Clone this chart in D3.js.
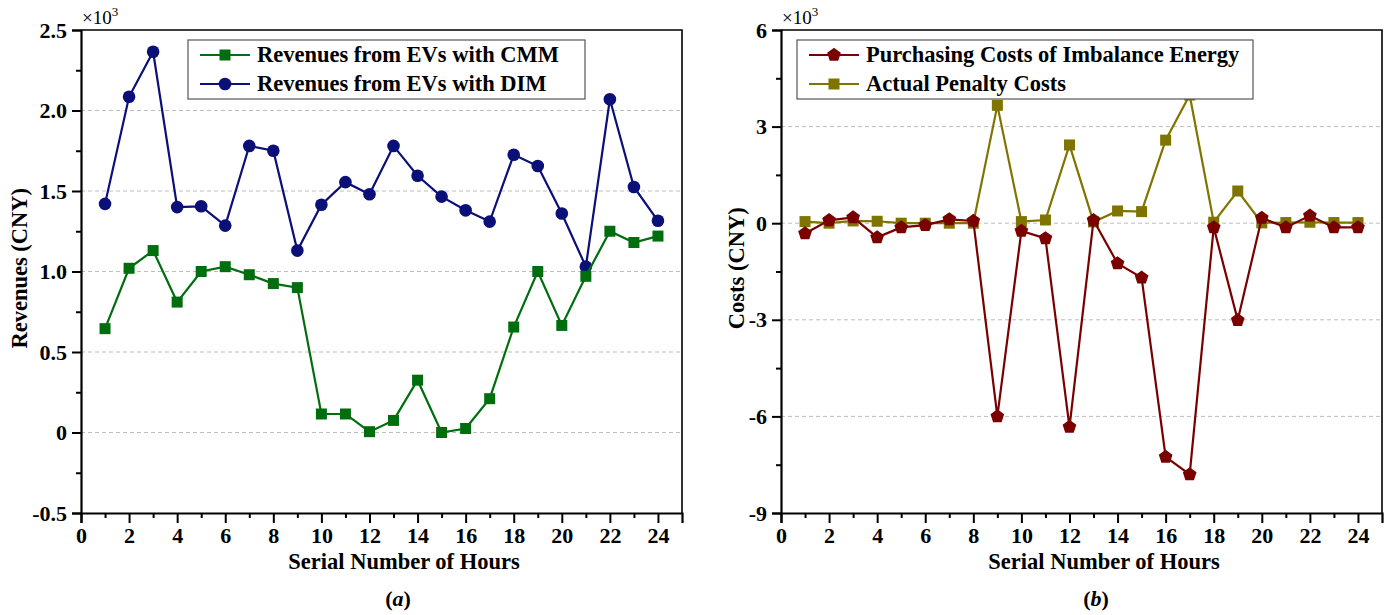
<!DOCTYPE html>
<meta charset="utf-8">
<script src="https://d3js.org/d3.v7.min.js"></script>
<style>
  body { margin: 0; background: #fff; }
  text { font-family: "Liberation Serif", "Times New Roman", serif; }
</style>
<body>
<svg width="1391" height="615"></svg>
<script>
// hours 1..24
var hours = d3.range(1, 25);

// panel (a): revenues, x10^3 CNY
var revenueCMM = [0.645, 1.02, 1.13, 0.81, 1.0, 1.03, 0.98, 0.925, 0.9, 0.115, 0.115, 0.005,
                  0.075, 0.325, 0.0, 0.025, 0.21, 0.655, 1.0, 0.665, 0.97, 1.25, 1.18, 1.22];
var revenueDIM = [1.42, 2.085, 2.365, 1.40, 1.405, 1.285, 1.78, 1.75, 1.13, 1.415, 1.555, 1.48,
                  1.78, 1.595, 1.465, 1.38, 1.31, 1.725, 1.655, 1.36, 1.03, 2.07, 1.525, 1.315];

// panel (b): costs, x10^3 CNY
var purchasingCosts = [-0.32, 0.09, 0.18, -0.44, -0.13, -0.06, 0.12, 0.07, -6.0, -0.24, -0.47, -6.33,
                       0.09, -1.25, -1.69, -7.26, -7.8, -0.13, -3.01, 0.16, -0.13, 0.23, -0.13, -0.13];
var penaltyCosts = [0.05, 0.0, 0.07, 0.06, 0.0, 0.0, 0.0, 0.0, 3.66, 0.05, 0.1, 2.43,
                    0.04, 0.38, 0.36, 2.58, 3.98, 0.03, 1.0, 0.01, 0.02, 0.03, 0.02, 0.02];

var xTicks = d3.range(0, 25, 2);
var xMinor = d3.range(1, 25, 2);
var yTicksA = [-0.5, 0, 0.5, 1.0, 1.5, 2.0, 2.5];
var yTicksB = [-9, -6, -3, 0, 3, 6];

var svg = d3.select("svg");

function pentagon(r) {
    var pts = d3.range(5).map(function(i) {
        var a = -Math.PI / 2 + i * 2 * Math.PI / 5;
        return [r * Math.cos(a), r * Math.sin(a)];
    });
    return "M" + pts.join("L") + "Z";
}
var markers = {
    square: d3.symbol().type(d3.symbolSquare).size(121)(),
    circle: d3.symbol().type(d3.symbolCircle).size(125)(),
    pentagon: pentagon(7.2)
};
// hyphen instead of unicode minus, like the original
function hy(f) { return function(d) { return f(d).replace("\u2212", "-"); }; }

function panel(opt) {
    var g = svg.append("g");
    var x = d3.scaleLinear().domain([0, 25]).range([opt.left, opt.left + 601]);
    var y = d3.scaleLinear().domain(opt.yDomain).range([513, 30]);

    // grid
    g.selectAll("line.grid").data(opt.grid).join("line")
        .attr("x1", x(0)).attr("x2", x(25))
        .attr("y1", d => y(d)).attr("y2", d => y(d))
        .attr("stroke", "#bdbdbd").attr("stroke-width", 1)
        .attr("stroke-dasharray", "4,3");

    // frame top/right
    g.append("path")
        .attr("d", "M" + x(0) + "," + y.range()[1] + "H" + x(25) + "V" + y.range()[0])
        .attr("fill", "none").attr("stroke", "#000").attr("stroke-width", 1.6);

    // x axis
    g.append("g").attr("transform", "translate(0,513)")
        .call(d3.axisBottom(x).tickValues(xTicks).tickSize(10).tickPadding(4).tickFormat(d3.format("d")));
    g.append("g").attr("transform", "translate(0,513)")
        .call(d3.axisBottom(x).tickValues(xMinor).tickSize(5).tickFormat(""))
        .select(".domain").remove();

    // y axis
    g.append("g").attr("transform", "translate(" + opt.left + ",0)")
        .call(d3.axisLeft(y).tickValues(opt.yTicks).tickSize(9).tickPadding(5).tickFormat(hy(opt.fmt)));
    g.append("g").attr("transform", "translate(" + opt.left + ",0)")
        .call(d3.axisLeft(y).tickValues(opt.yMinor).tickSize(5).tickFormat(""))
        .select(".domain").remove();

    g.selectAll(".domain").attr("stroke", "#000").attr("stroke-width", 2.2);
    g.selectAll(".tick line").attr("stroke", "#000").attr("stroke-width", 2);
    g.selectAll(".tick text")
        .attr("font-family", "Liberation Serif").attr("font-weight", "bold")
        .attr("font-size", 22).attr("fill", "#000");

    // multiplier
    var mt = g.append("text").attr("x", opt.left + 1).attr("y", 24)
        .attr("font-size", 19).attr("fill", "#000");
    mt.append("tspan").text("\u00d710");
    mt.append("tspan").attr("dy", -8).attr("font-size", 13).text("3");

    // axis titles
    g.append("text").attr("x", opt.xTitleX).attr("y", 569)
        .attr("text-anchor", "middle").attr("font-weight", "bold").attr("font-size", 22.5)
        .text("Serial Number of Hours");
    g.append("text")
        .attr("transform", "translate(" + opt.yTitleX + "," + y(opt.titleMid) + ") rotate(-90)")
        .attr("text-anchor", "middle").attr("font-weight", "bold").attr("font-size", 22.5)
        .text(opt.yTitle);

    // sub caption
    var cap = g.append("text").attr("x", opt.capX).attr("y", 606)
        .attr("text-anchor", "middle").attr("font-weight", "bold").attr("font-size", 22);
    cap.append("tspan").text("(");
    cap.append("tspan").attr("font-style", "italic").text(opt.cap);
    cap.append("tspan").text(")");

    // series
    var line = d3.line().x((d, i) => x(hours[i])).y(d => y(d));
    opt.series.forEach(function(s) {
        g.append("path").datum(s.values)
            .attr("d", line).attr("fill", "none")
            .attr("stroke", s.color).attr("stroke-width", 2.2);
        g.selectAll(null).data(s.values).join("path")
            .attr("d", markers[s.marker])
            .attr("transform", (d, i) => "translate(" + x(hours[i]) + "," + y(d) + ")")
            .attr("fill", s.color);
    });

    // legend
    var lg = g.append("g");
    lg.append("rect").attr("x", opt.legend.x).attr("y", 40)
        .attr("width", opt.legend.w).attr("height", 59)
        .attr("fill", "#fff").attr("stroke", "#555").attr("stroke-width", 1.2);
    opt.legendOrder.forEach(function(s, i) {
        var cy = 55 + i * 29;
        var lx = opt.legend.x + 12;
        lg.append("line").attr("x1", lx).attr("x2", lx + 50)
            .attr("y1", cy).attr("y2", cy)
            .attr("stroke", s.color).attr("stroke-width", 2.2);
        lg.append("path").attr("d", markers[s.marker])
            .attr("transform", "translate(" + (lx + 25) + "," + cy + ")")
            .attr("fill", s.color);
        lg.append("text").attr("x", lx + 57).attr("y", cy + 7)
            .attr("font-weight", "bold").attr("font-size", 22.5).attr("fill", "#000")
            .text(s.name);
    });
}

var sCMM = { name: "Revenues from EVs with CMM", values: revenueCMM, color: "#006e0f", marker: "square" };
var sDIM = { name: "Revenues from EVs with DIM", values: revenueDIM, color: "#0b0f78", marker: "circle" };
var sPur = { name: "Purchasing Costs of Imbalance Energy", values: purchasingCosts, color: "#7a0000", marker: "pentagon" };
var sPen = { name: "Actual Penalty Costs", values: penaltyCosts, color: "#7f7400", marker: "square" };

panel({
    left: 81, yDomain: [-0.5, 2.5], yTicks: yTicksA,
    yMinor: [-0.25, 0.25, 0.75, 1.25, 1.75, 2.25],
    grid: [0, 0.5, 1.0, 1.5, 2.0],
    fmt: d => d === 0 ? "0" : d3.format(".1f")(d),
    yTitle: "Revenues (CNY)", titleMid: 1.02, yTitleX: 27,
    xTitleX: 404,
    cap: "a", capX: 398,
    series: [sDIM, sCMM],
    legendOrder: [sCMM, sDIM],
    legend: { x: 188, w: 397 }
});

panel({
    left: 781, yDomain: [-9, 6], yTicks: yTicksB,
    yMinor: [-7.5, -4.5, -1.5, 1.5, 4.5],
    grid: [-6, -3, 0, 3],
    fmt: d3.format("d"),
    yTitle: "Costs (CNY)", titleMid: -1.4, yTitleX: 744,
    xTitleX: 1104,
    cap: "b", capX: 1096,
    series: [sPen, sPur],
    legendOrder: [sPur, sPen],
    legend: { x: 797, w: 456 }
});
</script>
</body>
